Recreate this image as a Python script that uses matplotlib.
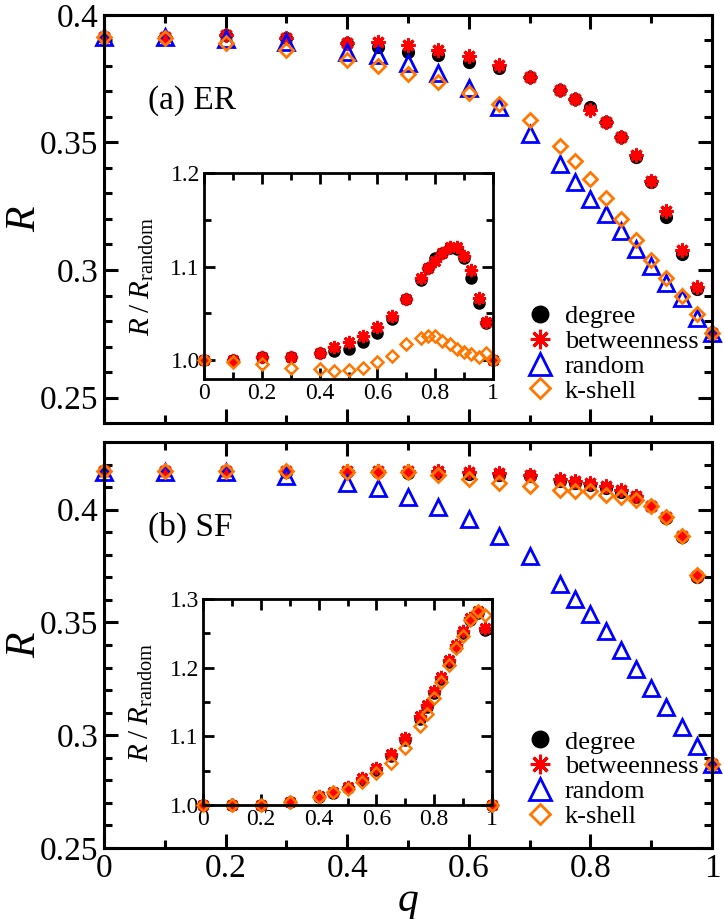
import matplotlib
matplotlib.use("Agg")
import matplotlib.pyplot as plt
from matplotlib.ticker import MultipleLocator, FuncFormatter

plt.rcParams['font.family'] = ['Liberation Serif', 'DejaVu Serif']
plt.rcParams['mathtext.fontset'] = 'custom'
plt.rcParams['mathtext.rm'] = 'Liberation Serif'
plt.rcParams['mathtext.it'] = 'Liberation Serif:italic'

# =========================
# DATA
# =========================
q = [0, 0.1, 0.2, 0.3, 0.4, 0.45, 0.5, 0.55, 0.6, 0.65, 0.7, 0.75,
     0.775, 0.8, 0.825, 0.85, 0.875, 0.9, 0.925, 0.95, 0.975, 1.0]

# (a) ER
er_degree = [0.3913, 0.3915, 0.3921, 0.3908, 0.3889, 0.3875, 0.3856, 0.3843,
             0.3816, 0.3794, 0.3755, 0.3705, 0.3672, 0.3639, 0.3580, 0.3521,
             0.3445, 0.3346, 0.3209, 0.3064, 0.2924, 0.2753]
er_betweenness = [0.3913, 0.3915, 0.3921, 0.3910, 0.3890, 0.3895, 0.3882, 0.3862,
                  0.3839, 0.3803, 0.3755, 0.3705, 0.3672, 0.3626, 0.3580, 0.3521,
                  0.3449, 0.3350, 0.3232, 0.3078, 0.2933, 0.2753]
er_random = [0.3913, 0.3915, 0.3904, 0.3895, 0.3856, 0.3843, 0.3812, 0.3773,
             0.3715, 0.3639, 0.3534, 0.3416, 0.3346, 0.3280, 0.3219, 0.3151,
             0.3081, 0.3016, 0.2950, 0.2891, 0.2812, 0.2753]
er_kshell = [0.3913, 0.3909, 0.3889, 0.3862, 0.3823, 0.3799, 0.3770, 0.3737,
             0.3694, 0.3652, 0.3587, 0.3488, 0.3429, 0.3357, 0.3282, 0.3200,
             0.3117, 0.3038, 0.2970, 0.2898, 0.2828, 0.2753]

er_ratio_degree = [1.000, 1.000, 1.003, 1.003, 1.008, 1.010, 1.0125, 1.0196,
                   1.0286, 1.044, 1.065, 1.086, 1.098, 1.109, 1.115, 1.120,
                   1.119, 1.109, 1.0875, 1.061, 1.040, 1.000]
er_ratio_betweenness = [1.000, 1.000, 1.003, 1.003, 1.008, 1.014, 1.019, 1.026,
                        1.035, 1.0475, 1.065, 1.0875, 1.099, 1.106, 1.115, 1.121,
                        1.121, 1.111, 1.096, 1.067, 1.041, 1.000]
er_ratio_kshell = [1.000, 0.998, 0.9964, 0.992, 0.991, 0.9886, 0.990, 0.992,
                   0.998, 1.005, 1.017, 1.024, 1.026, 1.026, 1.021, 1.017,
                   1.0125, 1.009, 1.007, 1.0036, 1.008, 1.000]

# (b) SF
sf_degree = [0.4170, 0.4170, 0.4170, 0.4168, 0.4165, 0.4165, 0.4163, 0.4162,
             0.4158, 0.4155, 0.4148, 0.4128, 0.4118, 0.4110, 0.4096, 0.4080,
             0.4054, 0.4014, 0.3962, 0.3880, 0.3700, 0.2873]
sf_betweenness = [0.4170, 0.4170, 0.4170, 0.4170, 0.4170, 0.4170, 0.4170, 0.4170,
                  0.4166, 0.4163, 0.4155, 0.4136, 0.4126, 0.4118, 0.4103, 0.4086,
                  0.4059, 0.4018, 0.3966, 0.3882, 0.3704, 0.2873]
sf_random = [0.4167, 0.4168, 0.4165, 0.4148, 0.4118, 0.4096, 0.4056, 0.4012,
             0.3959, 0.3882, 0.3793, 0.3672, 0.3604, 0.3538, 0.3460, 0.3376,
             0.3293, 0.3209, 0.3125, 0.3038, 0.2950, 0.2873]
sf_kshell = [0.4170, 0.4170, 0.4170, 0.4170, 0.4168, 0.4168, 0.4165, 0.4152,
             0.4136, 0.4118, 0.4103, 0.4089, 0.4084, 0.4081, 0.4067, 0.4055,
             0.4044, 0.4018, 0.3966, 0.3882, 0.3710, 0.2873]

sf_ratio_degree = [1.000, 1.000, 1.000, 1.004, 1.012, 1.017, 1.025, 1.037,
                   1.051, 1.072, 1.095, 1.126, 1.143, 1.163, 1.184, 1.208,
                   1.230, 1.250, 1.269, 1.279, 1.255, 1.000]
sf_ratio_betweenness = [1.000, 1.000, 1.000, 1.005, 1.0136, 1.0185, 1.027, 1.039,
                        1.0535, 1.074, 1.097, 1.129, 1.146, 1.166, 1.187, 1.2115,
                        1.233, 1.253, 1.272, 1.282, 1.258, 1.000]
sf_ratio_kshell = [1.000, 1.000, 1.000, 1.005, 1.012, 1.0185, 1.023, 1.034,
                   1.046, 1.061, 1.083, 1.115, 1.133, 1.156, 1.179, 1.204,
                   1.2285, 1.246, 1.270, 1.283, 1.277, 1.000]

labels = ["degree", "betweenness", "random", "k-shell"]

ORANGE = "#ff7700"
STAR = (8, 2, 0)


def style_axes(ax, labelsize, major_len, minor_len, lw):
    ax.tick_params(which='both', direction='in', top=True, right=True, width=lw)
    ax.tick_params(which='major', length=major_len, labelsize=labelsize, pad=4)
    ax.tick_params(which='minor', length=minor_len)
    for s in ax.spines.values():
        s.set_linewidth(lw)


def draw_main(ax, deg, btw, rnd, ksh):
    ax.plot(q, deg, ls='none', marker='o', color='black', ms=8.5, clip_on=False, label=labels[0])
    ax.plot(q, btw, ls='none', marker=STAR, color='red', ms=10, mew=2.2, clip_on=False, label=labels[1])
    ax.plot(q, rnd, ls='none', marker='^', mfc='none', mec='blue', ms=11, mew=2, clip_on=False, label=labels[2])
    ax.plot(q, ksh, ls='none', marker='D', mfc='none', mec=ORANGE, ms=7.5, mew=2, clip_on=False, label=labels[3])
    ax.set_xlim(0, 1)
    ax.xaxis.set_major_locator(MultipleLocator(0.2))
    ax.xaxis.set_minor_locator(MultipleLocator(0.1))
    ax.yaxis.set_major_locator(MultipleLocator(0.05))
    ax.yaxis.set_minor_locator(MultipleLocator(0.01))
    fmt = FuncFormatter(lambda v, p: f"{v:g}")
    ax.xaxis.set_major_formatter(fmt)
    ax.yaxis.set_major_formatter(fmt)
    style_axes(ax, 24, 10, 6, 2.2)
    ax.set_ylabel("R", fontstyle='italic', fontsize=30)
    ax.yaxis.set_label_coords(-0.099, 0.5)
    ax.legend(loc='upper left', bbox_to_anchor=(0.695, 0.29), frameon=False,
              fontsize=19, handlelength=1.0, handletextpad=0.45,
              labelspacing=0.05, borderpad=0, borderaxespad=0,
              markerscale=1.4, numpoints=1)


def draw_inset(ax, deg, btw, ksh, ylim, yticks):
    ax.plot(q, deg, ls='none', marker='o', color='black', ms=8, clip_on=False)
    ax.plot(q, btw, ls='none', marker=STAR, color='red', ms=9.5, mew=2, clip_on=False)
    ax.plot(q, ksh, ls='none', marker='D', mfc='none', mec=ORANGE, ms=6.5, mew=1.8, clip_on=False)
    ax.set_xlim(0, 1)
    ax.set_ylim(*ylim)
    ax.xaxis.set_major_locator(MultipleLocator(0.2))
    ax.xaxis.set_minor_locator(MultipleLocator(0.1))
    ax.set_yticks(yticks)
    ax.yaxis.set_minor_locator(MultipleLocator(0.05))
    ax.xaxis.set_major_formatter(FuncFormatter(lambda v, p: f"{v:g}"))
    ax.yaxis.set_major_formatter(FuncFormatter(lambda v, p: f"{v:.1f}"))
    style_axes(ax, 17, 8, 5, 2)
    ax.tick_params(which='major', pad=3)
    ax.set_ylabel(r"$R\;/\;R_{\rm random}$", fontsize=21)
    ax.yaxis.set_label_coords(-0.165, 0.5)


fig = plt.figure(figsize=(7.24, 9.19), dpi=100)

# =========================
# (a) ER
# =========================
ax1 = fig.add_axes([0.1436, 0.5397, 0.8398, 0.4440])
draw_main(ax1, er_degree, er_betweenness, er_random, er_kshell)
ax1.set_ylim(0.24, 0.4)
ax1.tick_params(labelbottom=False)
ax1.text(0.072, 0.79, "(a) ER", transform=ax1.transAxes, fontsize=24, va='center')

in1 = fig.add_axes([0.2818, 0.5876, 0.3992, 0.2242])
draw_inset(in1, er_ratio_degree, er_ratio_betweenness, er_ratio_kshell,
           (0.98, 1.2), [1.0, 1.1, 1.2])

# =========================
# (b) SF
# =========================
ax2 = fig.add_axes([0.1436, 0.0773, 0.8398, 0.4418])
draw_main(ax2, sf_degree, sf_betweenness, sf_random, sf_kshell)
ax2.set_ylim(0.25, 0.43)
ax2.set_xlabel("q", fontstyle='italic', fontsize=30, labelpad=-2)
ax2.text(0.072, 0.79, "(b) SF", transform=ax2.transAxes, fontsize=24, va='center')

in2 = fig.add_axes([0.2804, 0.1240, 0.3992, 0.2242])
draw_inset(in2, sf_ratio_degree, sf_ratio_betweenness, sf_ratio_kshell,
           (1.0, 1.3), [1.0, 1.1, 1.2, 1.3])

fig.savefig("out.png", dpi=100)
